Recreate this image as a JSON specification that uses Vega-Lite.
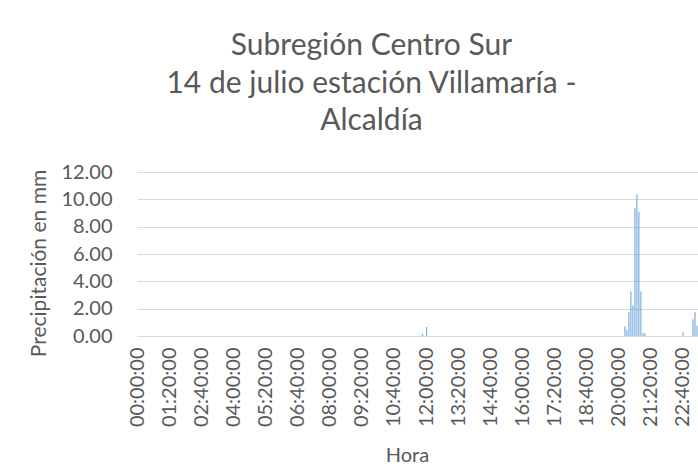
{
  "$schema": "https://vega.github.io/schema/vega-lite/v6.json",
  "autosize": "none",
  "width": 561,
  "height": 164,
  "padding": {"left": 137, "top": 172, "right": 0, "bottom": 136},
  "background": "white",
  "title": {
    "text": ["Subregión Centro Sur", "14 de julio estación Villamaría -", "Alcaldía"],
    "font": "Lato",
    "fontSize": 30,
    "fontWeight": "normal",
    "color": "#595959",
    "lineHeight": 37.5,
    "anchor": "middle",
    "frame": "group",
    "dx": -46,
    "offset": 26
  },
  "config": {
    "view": {"stroke": null},
    "font": "Lato"
  },
  "data": {
    "values": [
      {"h":"00:00:00","p":0},{"h":"00:05:00","p":0},{"h":"00:10:00","p":0},{"h":"00:15:00","p":0},{"h":"00:20:00","p":0},{"h":"00:25:00","p":0},{"h":"00:30:00","p":0},{"h":"00:35:00","p":0},{"h":"00:40:00","p":0},{"h":"00:45:00","p":0},{"h":"00:50:00","p":0},{"h":"00:55:00","p":0},
      {"h":"01:00:00","p":0},{"h":"01:05:00","p":0},{"h":"01:10:00","p":0},{"h":"01:15:00","p":0},{"h":"01:20:00","p":0},{"h":"01:25:00","p":0},{"h":"01:30:00","p":0},{"h":"01:35:00","p":0},{"h":"01:40:00","p":0},{"h":"01:45:00","p":0},{"h":"01:50:00","p":0},{"h":"01:55:00","p":0},
      {"h":"02:00:00","p":0},{"h":"02:05:00","p":0},{"h":"02:10:00","p":0},{"h":"02:15:00","p":0},{"h":"02:20:00","p":0},{"h":"02:25:00","p":0},{"h":"02:30:00","p":0},{"h":"02:35:00","p":0},{"h":"02:40:00","p":0},{"h":"02:45:00","p":0},{"h":"02:50:00","p":0},{"h":"02:55:00","p":0},
      {"h":"03:00:00","p":0},{"h":"03:05:00","p":0},{"h":"03:10:00","p":0},{"h":"03:15:00","p":0},{"h":"03:20:00","p":0},{"h":"03:25:00","p":0},{"h":"03:30:00","p":0},{"h":"03:35:00","p":0},{"h":"03:40:00","p":0},{"h":"03:45:00","p":0},{"h":"03:50:00","p":0},{"h":"03:55:00","p":0},
      {"h":"04:00:00","p":0},{"h":"04:05:00","p":0},{"h":"04:10:00","p":0},{"h":"04:15:00","p":0},{"h":"04:20:00","p":0},{"h":"04:25:00","p":0},{"h":"04:30:00","p":0},{"h":"04:35:00","p":0},{"h":"04:40:00","p":0},{"h":"04:45:00","p":0},{"h":"04:50:00","p":0},{"h":"04:55:00","p":0},
      {"h":"05:00:00","p":0},{"h":"05:05:00","p":0},{"h":"05:10:00","p":0},{"h":"05:15:00","p":0},{"h":"05:20:00","p":0},{"h":"05:25:00","p":0},{"h":"05:30:00","p":0},{"h":"05:35:00","p":0},{"h":"05:40:00","p":0},{"h":"05:45:00","p":0},{"h":"05:50:00","p":0},{"h":"05:55:00","p":0},
      {"h":"06:00:00","p":0},{"h":"06:05:00","p":0},{"h":"06:10:00","p":0},{"h":"06:15:00","p":0},{"h":"06:20:00","p":0},{"h":"06:25:00","p":0},{"h":"06:30:00","p":0},{"h":"06:35:00","p":0},{"h":"06:40:00","p":0},{"h":"06:45:00","p":0},{"h":"06:50:00","p":0},{"h":"06:55:00","p":0},
      {"h":"07:00:00","p":0},{"h":"07:05:00","p":0},{"h":"07:10:00","p":0},{"h":"07:15:00","p":0},{"h":"07:20:00","p":0},{"h":"07:25:00","p":0},{"h":"07:30:00","p":0},{"h":"07:35:00","p":0},{"h":"07:40:00","p":0},{"h":"07:45:00","p":0},{"h":"07:50:00","p":0},{"h":"07:55:00","p":0},
      {"h":"08:00:00","p":0},{"h":"08:05:00","p":0},{"h":"08:10:00","p":0},{"h":"08:15:00","p":0},{"h":"08:20:00","p":0},{"h":"08:25:00","p":0},{"h":"08:30:00","p":0},{"h":"08:35:00","p":0},{"h":"08:40:00","p":0},{"h":"08:45:00","p":0},{"h":"08:50:00","p":0},{"h":"08:55:00","p":0},
      {"h":"09:00:00","p":0},{"h":"09:05:00","p":0},{"h":"09:10:00","p":0},{"h":"09:15:00","p":0},{"h":"09:20:00","p":0},{"h":"09:25:00","p":0},{"h":"09:30:00","p":0},{"h":"09:35:00","p":0},{"h":"09:40:00","p":0},{"h":"09:45:00","p":0},{"h":"09:50:00","p":0},{"h":"09:55:00","p":0},
      {"h":"10:00:00","p":0},{"h":"10:05:00","p":0},{"h":"10:10:00","p":0},{"h":"10:15:00","p":0},{"h":"10:20:00","p":0},{"h":"10:25:00","p":0},{"h":"10:30:00","p":0},{"h":"10:35:00","p":0},{"h":"10:40:00","p":0},{"h":"10:45:00","p":0},{"h":"10:50:00","p":0},{"h":"10:55:00","p":0},
      {"h":"11:00:00","p":0},{"h":"11:05:00","p":0},{"h":"11:10:00","p":0},{"h":"11:15:00","p":0},{"h":"11:20:00","p":0},{"h":"11:25:00","p":0},{"h":"11:30:00","p":0},{"h":"11:35:00","p":0},{"h":"11:40:00","p":0},{"h":"11:45:00","p":0},{"h":"11:50:00","p":0.15},{"h":"11:55:00","p":0},
      {"h":"12:00:00","p":0.66},{"h":"12:05:00","p":0},{"h":"12:10:00","p":0},{"h":"12:15:00","p":0},{"h":"12:20:00","p":0},{"h":"12:25:00","p":0},{"h":"12:30:00","p":0},{"h":"12:35:00","p":0},{"h":"12:40:00","p":0},{"h":"12:45:00","p":0},{"h":"12:50:00","p":0},{"h":"12:55:00","p":0},
      {"h":"13:00:00","p":0},{"h":"13:05:00","p":0},{"h":"13:10:00","p":0},{"h":"13:15:00","p":0},{"h":"13:20:00","p":0},{"h":"13:25:00","p":0},{"h":"13:30:00","p":0},{"h":"13:35:00","p":0},{"h":"13:40:00","p":0},{"h":"13:45:00","p":0},{"h":"13:50:00","p":0},{"h":"13:55:00","p":0},
      {"h":"14:00:00","p":0},{"h":"14:05:00","p":0},{"h":"14:10:00","p":0},{"h":"14:15:00","p":0},{"h":"14:20:00","p":0},{"h":"14:25:00","p":0},{"h":"14:30:00","p":0},{"h":"14:35:00","p":0},{"h":"14:40:00","p":0},{"h":"14:45:00","p":0},{"h":"14:50:00","p":0},{"h":"14:55:00","p":0},
      {"h":"15:00:00","p":0},{"h":"15:05:00","p":0},{"h":"15:10:00","p":0},{"h":"15:15:00","p":0},{"h":"15:20:00","p":0},{"h":"15:25:00","p":0},{"h":"15:30:00","p":0},{"h":"15:35:00","p":0},{"h":"15:40:00","p":0},{"h":"15:45:00","p":0},{"h":"15:50:00","p":0},{"h":"15:55:00","p":0},
      {"h":"16:00:00","p":0},{"h":"16:05:00","p":0},{"h":"16:10:00","p":0},{"h":"16:15:00","p":0},{"h":"16:20:00","p":0},{"h":"16:25:00","p":0},{"h":"16:30:00","p":0},{"h":"16:35:00","p":0},{"h":"16:40:00","p":0},{"h":"16:45:00","p":0},{"h":"16:50:00","p":0},{"h":"16:55:00","p":0},
      {"h":"17:00:00","p":0},{"h":"17:05:00","p":0},{"h":"17:10:00","p":0},{"h":"17:15:00","p":0},{"h":"17:20:00","p":0},{"h":"17:25:00","p":0},{"h":"17:30:00","p":0},{"h":"17:35:00","p":0},{"h":"17:40:00","p":0},{"h":"17:45:00","p":0},{"h":"17:50:00","p":0},{"h":"17:55:00","p":0},
      {"h":"18:00:00","p":0},{"h":"18:05:00","p":0},{"h":"18:10:00","p":0},{"h":"18:15:00","p":0},{"h":"18:20:00","p":0},{"h":"18:25:00","p":0},{"h":"18:30:00","p":0},{"h":"18:35:00","p":0},{"h":"18:40:00","p":0},{"h":"18:45:00","p":0},{"h":"18:50:00","p":0},{"h":"18:55:00","p":0},
      {"h":"19:00:00","p":0},{"h":"19:05:00","p":0},{"h":"19:10:00","p":0},{"h":"19:15:00","p":0},{"h":"19:20:00","p":0},{"h":"19:25:00","p":0},{"h":"19:30:00","p":0},{"h":"19:35:00","p":0},{"h":"19:40:00","p":0},{"h":"19:45:00","p":0},{"h":"19:50:00","p":0},{"h":"19:55:00","p":0},
      {"h":"20:00:00","p":0},{"h":"20:05:00","p":0},{"h":"20:10:00","p":0},{"h":"20:15:00","p":0.7},{"h":"20:20:00","p":0.46},{"h":"20:25:00","p":1.73},{"h":"20:30:00","p":3.25},{"h":"20:35:00","p":2.25},{"h":"20:40:00","p":9.38},{"h":"20:45:00","p":10.38},{"h":"20:50:00","p":9.08},{"h":"20:55:00","p":3.25},
      {"h":"21:00:00","p":0.24},{"h":"21:05:00","p":0.2},{"h":"21:10:00","p":0},{"h":"21:15:00","p":0},{"h":"21:20:00","p":0},{"h":"21:25:00","p":0},{"h":"21:30:00","p":0},{"h":"21:35:00","p":0},{"h":"21:40:00","p":0},{"h":"21:45:00","p":0},{"h":"21:50:00","p":0},{"h":"21:55:00","p":0},
      {"h":"22:00:00","p":0},{"h":"22:05:00","p":0},{"h":"22:10:00","p":0},{"h":"22:15:00","p":0},{"h":"22:20:00","p":0},{"h":"22:25:00","p":0},{"h":"22:30:00","p":0},{"h":"22:35:00","p":0},{"h":"22:40:00","p":0.27},{"h":"22:45:00","p":0},{"h":"22:50:00","p":0},{"h":"22:55:00","p":0},
      {"h":"23:00:00","p":0},{"h":"23:05:00","p":1.22},{"h":"23:10:00","p":1.76},{"h":"23:15:00","p":0.76}
    ]
  },
  "mark": {"type": "bar", "color": "#5B9BD5", "opacity": 0.8},
  "encoding": {
    "x": {
      "field": "h",
      "type": "ordinal",
      "sort": "ascending",
      "scale": {"paddingInner": 0.4, "paddingOuter": 0.2},
      "axis": {
        "title": "Hora",
        "titleFont": "Lato",
        "titleFontSize": 20,
        "titleFontWeight": "normal",
        "titleColor": "#595959",
        "titleX": 270,
        "titlePadding": 19,
        "values": ["00:00:00","01:20:00","02:40:00","04:00:00","05:20:00","06:40:00","08:00:00","09:20:00","10:40:00","12:00:00","13:20:00","14:40:00","16:00:00","17:20:00","18:40:00","20:00:00","21:20:00","22:40:00"],
        "labelAngle": -90,
        "labelFont": "Lato",
        "labelFontSize": 20,
        "labelColor": "#595959",
        "labelPadding": 11,
        "ticks": false,
        "domain": true,
        "domainColor": "#d9d9d9",
        "grid": false
      }
    },
    "y": {
      "field": "p",
      "type": "quantitative",
      "scale": {"domain": [0, 12]},
      "axis": {
        "title": "Precipitación  en mm",
        "titleFont": "Lato",
        "titleFontSize": 21,
        "titleFontWeight": "normal",
        "titleColor": "#595959",
        "titleX": -88,
        "titleY": 91,
        "values": [0, 2, 4, 6, 8, 10, 12],
        "format": ".2f",
        "labelFont": "Lato",
        "labelFontSize": 20,
        "labelColor": "#595959",
        "labelPadding": 25,
        "ticks": false,
        "domain": false,
        "grid": true,
        "gridColor": "#d9d9d9",
        "gridWidth": 1
      }
    }
  }
}
